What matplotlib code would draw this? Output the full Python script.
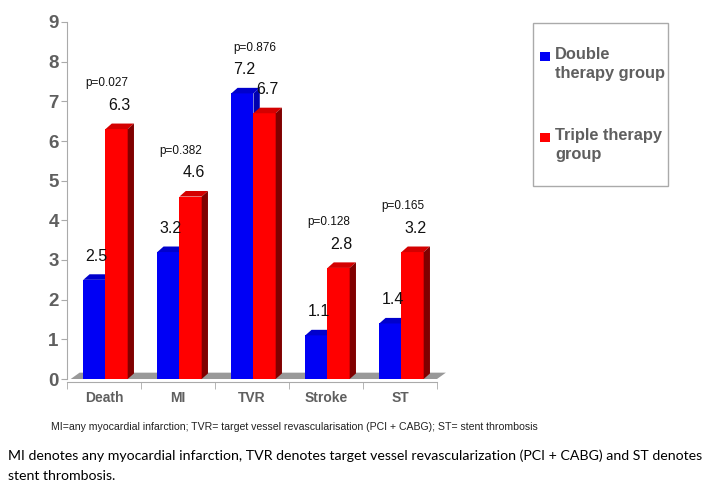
import matplotlib
matplotlib.use("Agg")
import matplotlib.pyplot as plt
from matplotlib.patches import Polygon, Rectangle
import numpy as np

categories = ["Death", "MI", "TVR", "Stroke", "ST"]
double_vals = [2.5, 3.2, 7.2, 1.1, 1.4]
triple_vals = [6.3, 4.6, 6.7, 2.8, 3.2]
p_values = ["p=0.027", "p=0.382", "p=0.876", "p=0.128", "p=0.165"]

plt.rcParams['font.family'] = ['Liberation Sans', 'DejaVu Sans']

fig = plt.figure(figsize=(7.03, 4.83), dpi=100)
ax = fig.add_axes([67/703, 1 - 379/483, 370/703, 357/483])

# spines first (set_position resets the ticks)
for s in ["top", "right"]:
    ax.spines[s].set_visible(False)
ax.spines["left"].set_color("#aaaaaa")
ax.spines["bottom"].set_color("#aaaaaa")
ax.spines["bottom"].set_position(("outward", 2))

x = np.arange(len(categories))
w = 0.30
dx, dy = 0.085, 0.14
gray = "#5f5f5f"

# floor
fdx = 0.12
floor = Polygon([(-0.5 + 0.05, 0), (4.5, 0), (4.5 + fdx, 0.16), (-0.5 + fdx + 0.05, 0.16)],
                closed=True, facecolor="#999999", edgecolor="none", clip_on=False, zorder=1)
ax.add_patch(floor)


def bar3d(x0, h, front, top, side):
    ax.bar(x0, h, width=w, align="edge", color=front, zorder=3, linewidth=0)
    ax.add_patch(Polygon([(x0, h), (x0 + w, h), (x0 + w + dx, h + dy), (x0 + dx, h + dy)],
                         closed=True, facecolor=top, edgecolor="none", zorder=3))
    ax.add_patch(Polygon([(x0 + w, 0), (x0 + w + dx, dy), (x0 + w + dx, h + dy), (x0 + w, h)],
                         closed=True, facecolor=side, edgecolor="none", zorder=3))


for i in range(len(categories)):
    bx = x[i] - w + 0.02
    rx = x[i] + 0.02
    bar3d(bx, double_vals[i], "#0000f5", "#0000cc", "#0000b0")
    bar3d(rx, triple_vals[i], "#ff0000", "#d40000", "#800000")
    ax.text(bx + w / 2 + 0.03, double_vals[i] + 0.6, str(double_vals[i]), ha="center", va="center",
            fontsize=11.5, color="#111111", zorder=5)
    ax.text(rx + w / 2 + 0.04, triple_vals[i] + 0.6, str(triple_vals[i]), ha="center", va="center",
            fontsize=11.5, color="#111111", zorder=5)
    top_lbl = max(double_vals[i], triple_vals[i]) + 0.6
    ax.text(x[i] + 0.04, top_lbl + 0.55, p_values[i], ha="center", va="center",
            fontsize=8.5, color="#111111", zorder=5)

ax.set_xlim(-0.5, 4.5)
ax.set_ylim(0, 9)
ax.set_yticks(range(0, 10))
ax.set_xticks(x)
ax.set_xticks(np.arange(-0.5, 5, 1), minor=True)
ax.tick_params(axis="x", which="major", length=0, pad=7)
ax.tick_params(axis="x", which="minor", length=5, color="#aaaaaa")
ax.tick_params(axis="y", length=4, color="#aaaaaa", pad=2)
ax.set_xticklabels(categories, fontweight="bold", fontsize=10, color=gray)
ax.set_yticklabels([str(v) for v in range(0, 10)], fontweight="bold", fontsize=13.5, color=gray)

# legend box
fig.patches.append(Rectangle((533/703, 1 - 186/483), 135/703, 163/483, transform=fig.transFigure,
                             facecolor="white", edgecolor="#aaaaaa", linewidth=1))
fig.patches.append(Rectangle((540/703, 1 - 61/483), 10/703, 9/483, transform=fig.transFigure,
                             facecolor="#0000f5", edgecolor="none"))
fig.patches.append(Rectangle((540/703, 1 - 142/483), 10/703, 9/483, transform=fig.transFigure,
                             facecolor="#ff0000", edgecolor="none"))
fig.text(555/703, 1 - 47/483, "Double\ntherapy group", fontsize=11.8, fontweight="bold",
         color=gray, va="top", ha="left", linespacing=1.35)
fig.text(555/703, 1 - 128/483, "Triple therapy\ngroup", fontsize=11.8, fontweight="bold",
         color=gray, va="top", ha="left", linespacing=1.35)

fig.text(51/703, 1 - 427/483,
         "MI=any myocardial infarction; TVR= target vessel revascularisation (PCI + CABG); ST= stent thrombosis",
         fontsize=7.6, color="#222222", va="center", ha="left")
fig.text(8/703, 1 - 456/483,
         "MI denotes any myocardial infarction, TVR denotes target vessel revascularization (PCI + CABG) and ST denotes",
         fontsize=10.2, color="black", va="center", ha="left", family=["Lato", "DejaVu Sans"])
fig.text(8/703, 1 - 476/483, "stent thrombosis.",
         fontsize=10.2, color="black", va="center", ha="left", family=["Lato", "DejaVu Sans"])

fig.savefig("out.png", dpi=100)
